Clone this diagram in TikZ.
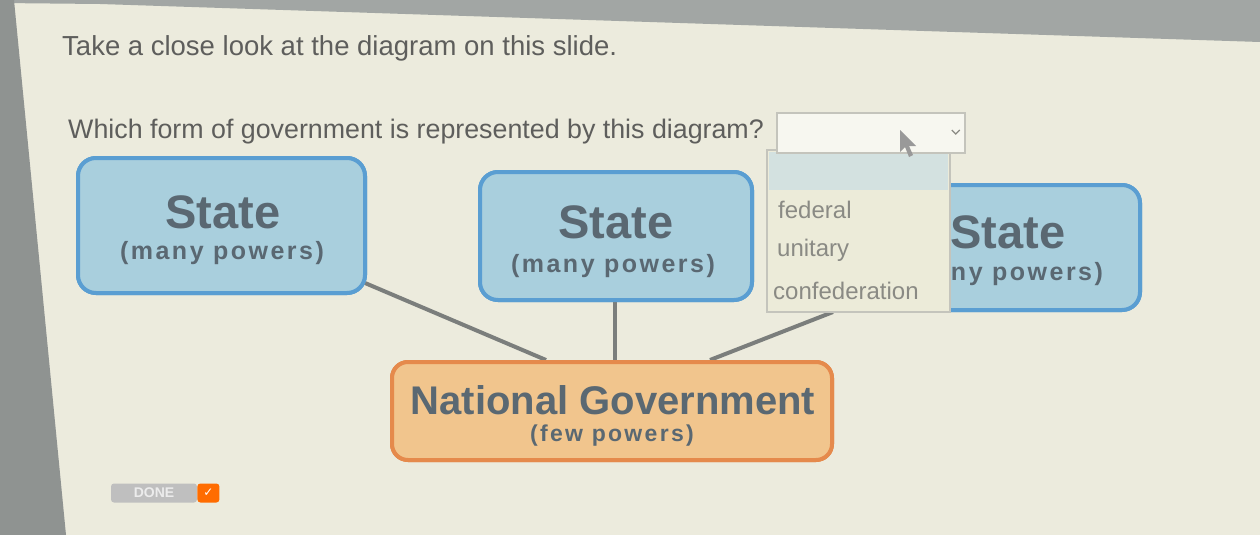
\documentclass[tikz,border=0pt]{standalone}
\usepackage{fontspec}
\setmainfont{Liberation Sans}
\newfontfamily\symfont{DejaVu Sans}
\newfontfamily\spacedbold[LetterSpace=10]{Liberation Sans Bold}
\usetikzlibrary{calc}
\definecolor{screen}{HTML}{ECEBDD}
\definecolor{bezel}{HTML}{A2A6A4}
\definecolor{bezelL}{HTML}{8F9391}
\definecolor{boxfill}{HTML}{A9CFDD}
\definecolor{boxline}{HTML}{5A9ED2}
\definecolor{ngfill}{HTML}{F1C58D}
\definecolor{ngline}{HTML}{E58A4C}
\definecolor{stext}{HTML}{5A6872}
\definecolor{qtext}{HTML}{5E5E5C}
\definecolor{conn}{HTML}{7B7E7C}
\definecolor{ddfill}{HTML}{ECEBD9}
\definecolor{ddhl}{HTML}{D3E1E0}
\definecolor{ddline}{HTML}{C4C4BC}
\definecolor{ddtext}{HTML}{8A8A84}
\tikzset{
  statebox/.style={draw=boxline, line width=4pt, fill=boxfill, rounded corners=18pt, minimum width=#1},
  ngbox/.style={draw=ngline, line width=4pt, fill=ngfill, rounded corners=16pt, minimum width=440pt, minimum height=98pt},
  stitle/.style={text=stext, font=\fontsize{47}{47}\selectfont\bfseries, inner sep=0pt},
  ssub/.style={text=stext, font=\fontsize{25}{25}\selectfont\spacedbold, inner sep=0pt},
  qline/.style={text=qtext, font=\fontsize{27.5}{27.5}\selectfont, inner sep=0pt, anchor=base west},
  connector/.style={draw=conn, line width=4pt},
  dditem/.style={text=ddtext, font=\fontsize{24}{24}\selectfont, inner sep=0pt, anchor=base west}
}
\begin{document}
\begin{tikzpicture}[x=1pt,y=-1pt]
\useasboundingbox (0,0) rectangle (1260,535);
\fill[screen] (0,0) rectangle (1260,535);
\fill[bezel] (0,0) -- (1260,0) -- (1260,42) -- (100,4) -- (0,3) -- cycle;
\fill[bezelL] (0,0) -- (14,0) -- (66,535) -- (0,535) -- cycle;

% question text
\node[qline] (q1) at (62,56) {Take a close look at the diagram on this slide.};
\node[qline, font=\fontsize{26.8}{26.8}\selectfont] (q2) at (68,138) {Which form of government is represented by this diagram?};

% boxes
\node[statebox=287pt, minimum height=135pt] (ls) at (221.5,225.5) {};
\node[statebox=272pt, minimum height=128pt] (ms) at (616,236) {};
\node[statebox=280pt, minimum height=125pt] (rs) at (1000,247.5) {};
\node[ngbox] (ng) at (612,411) {};

% connectors (boxes re-drawn on top afterwards)
\coordinate (c1a) at ($(ls.south east)+(-2,-12)$);
\coordinate (c1b) at ($(ng.north west)+(156,0)$);
\coordinate (c2a) at ($(ms.south)+(-1,0)$);
\coordinate (c2b) at ($(ng.north)+(3,0)$);
\coordinate (c3a) at ($(rs.south west)+(-25,0)$);
\coordinate (c3b) at ($(ng.north east)+(-124,0)$);
\draw[connector] (c1a) -- (c1b);
\draw[connector] (c2a) -- (c2b);
\draw[connector] (c3a) -- (c3b);

\node[statebox=287pt, minimum height=135pt] (ls2) at (ls) {};
\node[statebox=272pt, minimum height=128pt] (ms2) at (ms) {};
\node[statebox=280pt, minimum height=125pt] (rs2) at (rs) {};
\node[ngbox] (ng2) at (ng) {};

% box texts
\node[stitle] (lst) at (223,212) {State};
\node[ssub] (lsu) at (222,253) {(many powers)};
\node[stitle] (mst) at (616,222) {State};
\node[ssub] (msu) at (613,266) {(many powers)};
\node[stitle] (rst) at (1008,232) {State};
\node[ssub] (rsu) at (1001,274) {(many powers)};
\node[text=stext, font=\fontsize{40}{40}\selectfont\bfseries, inner sep=0pt] (ngt) at (613,400) {National Government};
\node[text=stext, font=\fontsize{23}{23}\selectfont\spacedbold, inner sep=0pt] (ngs) at (612,436) {(few powers)};

% dropdown
\node[draw=ddline, line width=1.2pt, fill=ddfill, minimum width=183pt, minimum height=162pt, inner sep=0pt] (ddl) at (858.5,231) {};
\node[fill=ddhl, minimum width=179pt, minimum height=38pt, inner sep=0pt] (ddh) at (858.5,171) {};
\node[draw=ddline, line width=1.5pt, fill=white!60!ddfill, minimum width=188pt, minimum height=40pt, inner sep=0pt] (dds) at (871,133) {};
\draw[ddtext, line width=1.2pt] ($(dds.east)+(-14,-3)$) -- ($(dds.east)+(-10,1)$) -- ($(dds.east)+(-6,-3)$);
\fill[gray!80] (900,130) -- (900,152) -- (905,147) -- (909,157) -- (913,155) -- (909,146) -- (916,146) -- cycle;
\node[dditem] (f) at (778,218) {federal};
\node[dditem] (u) at (777,256) {unitary};
\node[dditem] (c) at (773,299) {confederation};

% done button
\node[fill=gray!50, rounded corners=3pt, minimum width=86pt, minimum height=19pt, inner sep=0pt, text=gray!15, font=\fontsize{14}{14}\selectfont\bfseries] (done) at (154,493) {DONE};
\node[fill=orange!85!red, rounded corners=3pt, minimum width=22pt, minimum height=19pt, inner sep=0pt, text=white, font=\fontsize{12}{12}\selectfont\symfont, anchor=west] (chk) at (done.east) {✓};
\end{tikzpicture}
\end{document}
